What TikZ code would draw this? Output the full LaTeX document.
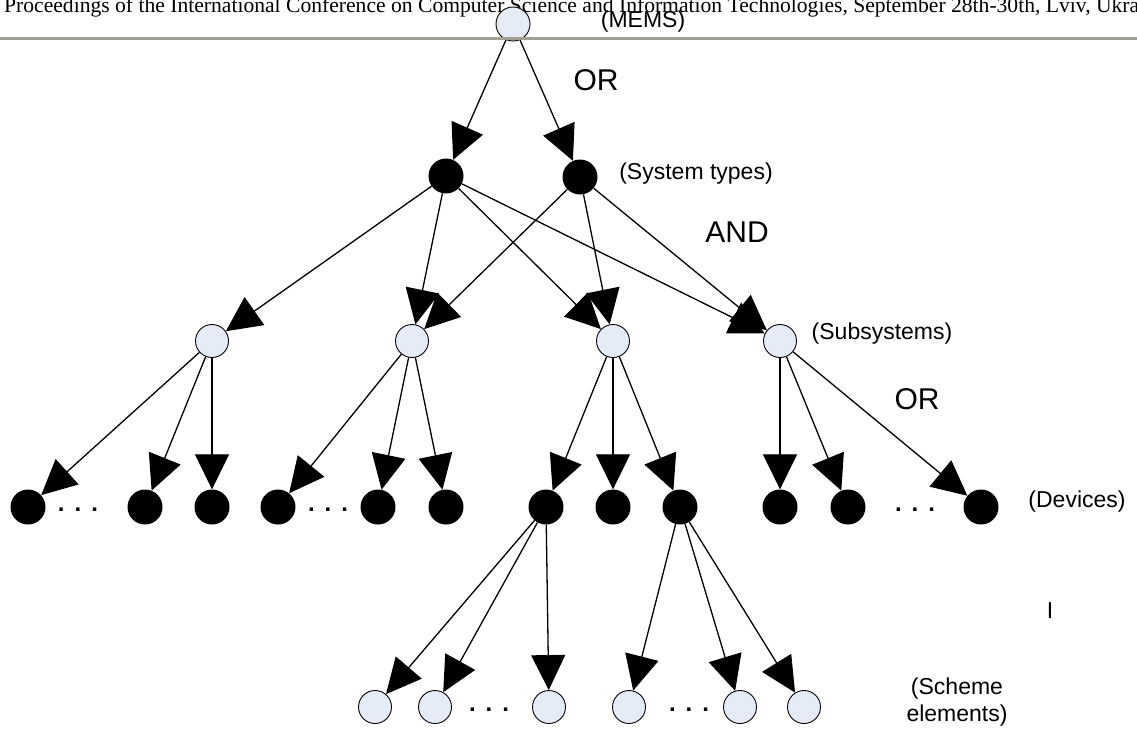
\documentclass[tikz,border=0pt]{standalone}
\usepackage{fontspec}
\setmainfont{Liberation Sans}
\newfontfamily\timesfont{Liberation Serif}
\usetikzlibrary{arrows.meta}
\definecolor{lightnode}{RGB}{230,236,247}
\definecolor{rulegray}{RGB}{163,160,145}
\tikzset{
  lnode/.style={circle,draw=black,line width=0.9pt,fill=lightnode,minimum size=33pt,inner sep=0pt},
  dnode/.style={circle,fill=black,minimum size=35pt,inner sep=0pt},
  conn/.style={line width=1.3pt,-{Triangle[length=35pt,width=34pt]}},
  lab/.style={font=\fontsize{23}{27}\selectfont,inner sep=0pt},
  biglab/.style={font=\fontsize{30}{34}\selectfont,inner sep=0pt},
  dots/.style={font=\bfseries\fontsize{24}{28}\selectfont,inner sep=0pt,anchor=base}
}
\newcommand{\threedots}{.\hspace{10pt}.\hspace{10pt}.}
\begin{document}
\begin{tikzpicture}[x=1pt,y=-1pt]
\useasboundingbox (0,0) rectangle (1137,731);
\fill[white] (0,0) rectangle (1137,731);
% header
\node[anchor=base west,inner sep=0pt,font=\timesfont\fontsize{21.6}{24}\selectfont] (hdr) at (4,12) {Proceedings of the International Conference on Computer Science and Information Technologies, September 28th-30th, Lviv, Ukraine};
% nodes
\node[lnode,minimum size=34pt] (mems) at (513,24) {};
\draw[rulegray,line width=3pt] (0,38) -- (1137,38);
\node[dnode] (t1) at (446,176) {};
\node[dnode] (t2) at (580,177) {};
\node[lnode] (s1) at (212,341) {};
\node[lnode] (s2) at (412,341) {};
\node[lnode] (s3) at (613,341) {};
\node[lnode] (s4) at (780,341) {};
\foreach \i/\x in {1/28,2/145,3/212,4/278,5/378,6/446,7/546,8/613,9/680,10/780,11/848,12/981}
  \node[dnode] (d\i) at (\x,507) {};
\foreach \i/\x in {1/375,2/435,3/549,4/629,5/740,6/804}
  \node[lnode] (e\i) at (\x,707) {};
% labels
\node[lab] (lmems) at (643,22) {(MEMS)};
\node[biglab] (lor1) at (596,80) {OR};
\node[lab] (lsys) at (696,174) {(System types)};
\node[biglab] (land) at (737,232) {AND};
\node[lab] (lsub) at (882,334) {(Subsystems)};
\node[biglab] (lor2) at (917,399) {OR};
\node[lab] (ldev) at (1077,502) {(Devices)};
\node[lab] (li) at (1050,611) {I};
\node[lab,align=center] (lsch) at (957,702) {(Scheme\\elements)};
% dots
\node[dots] (dd1) at (78,511) {\threedots};
\node[dots] (dd2) at (328,511) {\threedots};
\node[dots] (dd3) at (915,511) {\threedots};
\node[dots] (dd4) at (489,711) {\threedots};
\node[dots] (dd5) at (689,711) {\threedots};
% connectors
\draw[conn] (mems) -- (t1);
\draw[conn] (mems) -- (t2);
\draw[conn] (t1) -- (s1);
\draw[conn] (t1) -- (s2);
\draw[conn] (t1) -- (s3);
\draw[conn] (t1) -- (s4);
\draw[conn] (t2) -- (s2);
\draw[conn] (t2) -- (s3);
\draw[conn] (t2) -- (s4);
\draw[conn] (s1) -- (d1);
\draw[conn] (s1) -- (d2);
\draw[conn] (s1) -- (d3);
\draw[conn] (s2) -- (d4);
\draw[conn] (s2) -- (d5);
\draw[conn] (s2) -- (d6);
\draw[conn] (s3) -- (d7);
\draw[conn] (s3) -- (d8);
\draw[conn] (s3) -- (d9);
\draw[conn] (s4) -- (d10);
\draw[conn] (s4) -- (d11);
\draw[conn] (s4) -- (d12);
\draw[conn] (d7) -- (e1);
\draw[conn] (d7) -- (e2);
\draw[conn] (d7) -- (e3);
\draw[conn] (d9) -- (e4);
\draw[conn] (d9) -- (e5);
\draw[conn] (d9) -- (e6);
\end{tikzpicture}
\end{document}
